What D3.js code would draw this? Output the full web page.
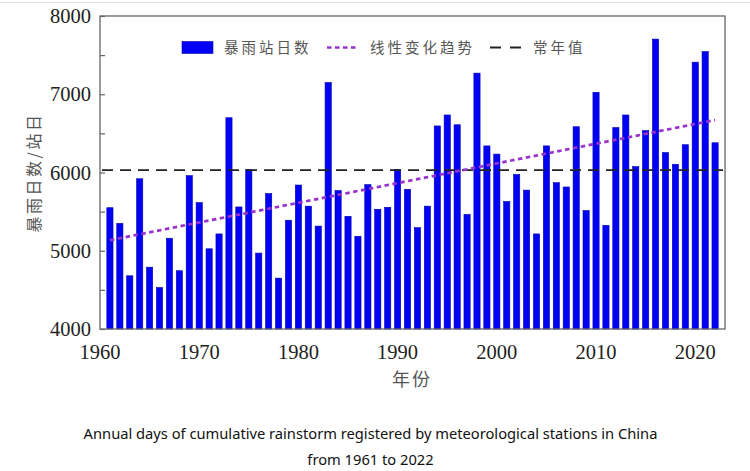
<!DOCTYPE html>
<html>
<head>
<meta charset="utf-8">
<script src="https://cdn.jsdelivr.net/npm/d3@7"></script>
<style>
  html, body { margin: 0; padding: 0; background: #fff; }
  svg { display: block; }
</style>
</head>
<body>
<svg id="chart" width="750" height="471"></svg>
<script>
const years = d3.range(1961, 2023);
const stationDays = [
  5550, 5350, 4680, 5920, 4790, 4530, 5160, 4745, 5960, 5615,
  5025, 5215, 6700, 5560, 6040, 4970, 5730, 4650, 5390, 5840,
  5570, 5315, 7150, 5770, 5440, 5185, 5845, 5530, 5555, 6040,
  5785, 5295, 5570, 6595, 6735, 6610, 5465, 7270, 6340, 6235,
  5630, 5975, 5775, 5215, 6340, 5870, 5815, 6585, 5515, 7025,
  5325, 6575, 6735, 6075, 6535, 7705, 6255, 6105, 6355, 7410,
  7545, 6380
];
const trendStart = 5135, trendEnd = 6670;
const normalValue = 6030;
const yTicks = [4000, 5000, 6000, 7000, 8000];
const xTicks = [1960, 1970, 1980, 1990, 2000, 2010, 2020];
const legendLabels = ["暴雨站日数", "线性变化趋势", "常年值"];
const yTitle = "暴雨日数/站日";
const xTitle = "年份";
const caption = ["Annual days of cumulative rainstorm registered by meteorological stations in China", "from 1961 to 2022"];

const svg = d3.select("#chart");
const L = 100, R = 725, T = 16, B = 329;
const x = d3.scaleLinear().domain([1960, 2023]).range([L, R]);
const y = d3.scaleLinear().domain([4000, 8000]).range([B, T]);
const serif = "'Liberation Serif', 'Times New Roman', serif";
const cjk = "'Noto Sans CJK SC', sans-serif";
const purple = "#9932cc";

// outer light border
svg.append("line").attr("x1", 0).attr("x2", 750).attr("y1", 2.5).attr("y2", 2.5)
  .attr("stroke", "#e2e2e2").attr("stroke-width", 1);

// bars
const bw = 6.2;
svg.append("g").selectAll("rect").data(years).join("rect")
  .attr("x", (d) => x(d) - bw / 2)
  .attr("y", (d, i) => y(stationDays[i]))
  .attr("width", bw)
  .attr("height", (d, i) => y(4000) - y(stationDays[i]))
  .attr("fill", "#0000f5")
  .attr("stroke", "#0000b0")
  .attr("stroke-width", 0.6);

// normal line
svg.append("line")
  .attr("x1", L + 2).attr("x2", R - 2)
  .attr("y1", y(normalValue)).attr("y2", y(normalValue))
  .attr("stroke", "#222").attr("stroke-width", 1.7)
  .attr("stroke-dasharray", "11,7");

// trend line
svg.append("line")
  .attr("x1", x(1961)).attr("x2", x(2022))
  .attr("y1", y(trendStart)).attr("y2", y(trendEnd))
  .attr("stroke", purple).attr("stroke-width", 2.7)
  .attr("stroke-dasharray", "4.5,3.5");

// frame
svg.append("rect").attr("x", L).attr("y", T).attr("width", R - L).attr("height", B - T)
  .attr("fill", "none").attr("stroke", "#666").attr("stroke-width", 1.3);

// y ticks (inward)
const yAxis = d3.axisLeft(y).tickValues(d3.range(4000, 8001, 500)).tickSizeInner(-5).tickSizeOuter(0).tickFormat("");
const gy = svg.append("g").attr("transform", `translate(${L},0)`).call(yAxis);
gy.select(".domain").remove();
gy.selectAll("line").attr("stroke", "#666").attr("stroke-width", 1.2);

// y tick labels
svg.append("g").selectAll("text").data(yTicks).join("text")
  .attr("x", L - 9).attr("y", (d) => y(d)).attr("dy", "0.35em")
  .attr("text-anchor", "end").attr("font-family", serif).attr("font-size", 20.5)
  .attr("fill", "#222").text((d) => d);

// x tick labels
svg.append("g").selectAll("text").data(xTicks).join("text")
  .attr("x", (d) => x(d)).attr("y", 359)
  .attr("text-anchor", "middle").attr("font-family", serif).attr("font-size", 20.5)
  .attr("fill", "#222").text((d) => d);

// axis titles
svg.append("text").attr("transform", `translate(40,${(T + B) / 2}) rotate(-90)`)
  .attr("text-anchor", "middle").attr("font-family", cjk).attr("font-size", 16)
  .attr("letter-spacing", 2.5).attr("fill", "#555").text(yTitle);
svg.append("text").attr("x", 412).attr("y", 386)
  .attr("text-anchor", "middle").attr("font-family", cjk).attr("font-size", 18)
  .attr("letter-spacing", 2).attr("fill", "#555").text(xTitle);

// legend
const ly = 47.5;
svg.append("rect").attr("x", 182).attr("y", ly - 6).attr("width", 31).attr("height", 12)
  .attr("fill", "#0000f5").attr("stroke", "#0000b0").attr("stroke-width", 0.6);
svg.append("text").attr("x", 224).attr("y", ly).attr("dy", "0.36em")
  .attr("font-family", cjk).attr("font-size", 14.5).attr("letter-spacing", 3)
  .attr("fill", "#555").text(legendLabels[0]);
svg.append("line").attr("x1", 327).attr("x2", 359).attr("y1", ly).attr("y2", ly)
  .attr("stroke", purple).attr("stroke-width", 2.7).attr("stroke-dasharray", "4.5,3.5");
svg.append("text").attr("x", 370).attr("y", ly).attr("dy", "0.36em")
  .attr("font-family", cjk).attr("font-size", 14.5).attr("letter-spacing", 3)
  .attr("fill", "#555").text(legendLabels[1]);
svg.append("line").attr("x1", 490).attr("x2", 521).attr("y1", ly).attr("y2", ly)
  .attr("stroke", "#222").attr("stroke-width", 2).attr("stroke-dasharray", "11,9");
svg.append("text").attr("x", 533).attr("y", ly).attr("dy", "0.36em")
  .attr("font-family", cjk).attr("font-size", 14.5).attr("letter-spacing", 3)
  .attr("fill", "#555").text(legendLabels[2]);

// caption
svg.append("g").selectAll("text").data(caption).join("text")
  .attr("x", 370.5).attr("y", (d, i) => 439 + i * 26)
  .attr("text-anchor", "middle").attr("font-family", "'Noto Sans', sans-serif")
  .attr("font-size", 14.7).attr("fill", "#111").text((d) => d);
</script>
</body>
</html>
